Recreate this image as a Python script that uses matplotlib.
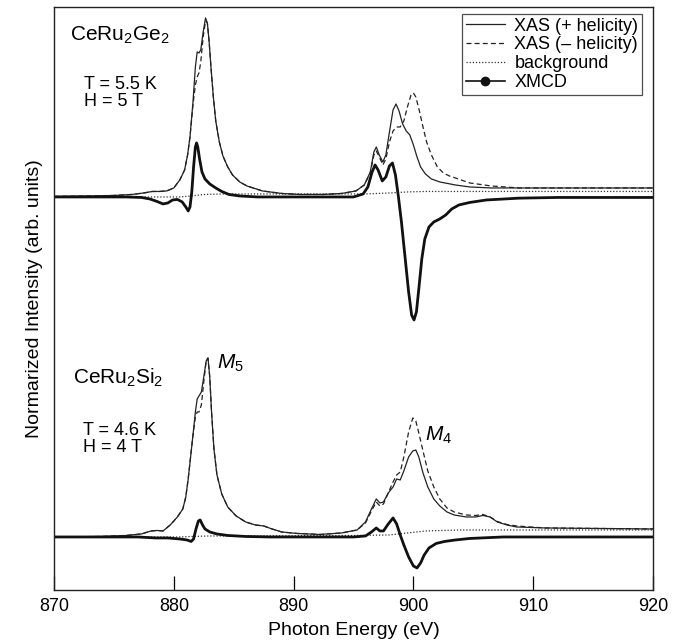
import numpy as np
import matplotlib
matplotlib.use("Agg")
import matplotlib.pyplot as plt
from matplotlib.lines import Line2D

plt.rcParams['font.family'] = ['Liberation Sans', 'DejaVu Sans']
plt.rcParams['mathtext.fontset'] = 'custom'
plt.rcParams['mathtext.rm'] = 'Liberation Sans'
plt.rcParams['mathtext.it'] = 'Liberation Sans:italic'

# ---- CeRu2Ge2 (upper set), values relative to its own baseline ----
ge_e_plus = [870, 873, 875, 876.5, 877.5, 878.2, 878.8, 879.4, 880.0, 880.5, 880.9, 881.15,
             881.35, 881.6, 881.8, 881.95, 882.1, 882.25, 882.45, 882.65, 882.8, 882.95,
             883.1, 883.3, 883.5, 883.8, 884.1, 884.5, 884.9, 885.5, 886.1, 887.4, 889,
             890.5, 892.5, 894, 895.2, 895.9, 896.4, 896.7, 896.9, 897.15, 897.45, 897.7,
             898.0, 898.3, 898.55, 898.8, 899.1, 899.4, 899.7, 900.0, 900.3, 900.6, 901.0,
             901.5, 902.2, 903.5, 904.7, 906.5, 908, 920]
ge_plus = [0.005, 0.01, 0.015, 0.025, 0.04, 0.055, 0.055, 0.06, 0.09, 0.17, 0.27, 0.42,
           0.60, 0.95, 1.30, 1.45, 1.44, 1.47, 1.65, 1.79, 1.74, 1.55,
           1.30, 1.00, 0.76, 0.55, 0.41, 0.30, 0.22, 0.15, 0.11, 0.06, 0.035,
           0.025, 0.025, 0.035, 0.06, 0.12, 0.25, 0.45, 0.50, 0.42, 0.35, 0.42,
           0.65, 0.87, 0.93, 0.86, 0.73, 0.66, 0.62, 0.52, 0.40, 0.30, 0.23,
           0.18, 0.15, 0.12, 0.10, 0.09, 0.09, 0.09]

ge_e_minus = [870, 873, 875, 876.5, 877.5, 878.2, 878.8, 879.4, 880.0, 880.5, 880.9, 881.15,
              881.35, 881.6, 881.8, 881.95, 882.1, 882.25, 882.45, 882.65, 882.8, 882.95,
              883.1, 883.3, 883.5, 883.8, 884.1, 884.5, 884.9, 885.5, 886.1, 887.4, 889,
              890.5, 892.5, 894, 895.2, 895.9, 896.4, 896.7, 896.9, 897.15, 897.45, 897.7,
              898.0, 898.3, 898.6, 898.9, 899.2, 899.5, 899.8, 900.0, 900.2, 900.5, 900.8,
              901.1, 901.5, 902.0, 902.5, 903.0, 903.5, 904.7, 906.5, 908.8, 920]
ge_minus = [0.005, 0.01, 0.015, 0.025, 0.04, 0.055, 0.055, 0.06, 0.09, 0.17, 0.27, 0.42,
            0.60, 0.92, 1.12, 1.20, 1.24, 1.35, 1.60, 1.76, 1.74, 1.55,
            1.30, 1.00, 0.76, 0.55, 0.41, 0.30, 0.22, 0.15, 0.11, 0.06, 0.035,
            0.025, 0.025, 0.035, 0.06, 0.12, 0.24, 0.42, 0.46, 0.40, 0.32, 0.38,
            0.55, 0.66, 0.70, 0.70, 0.76, 0.90, 1.02, 1.04, 1.00, 0.86, 0.70,
            0.55, 0.42, 0.30, 0.24, 0.21, 0.19, 0.14, 0.11, 0.09, 0.09]

ge_e_bg = [870, 880.5, 881.5, 882.5, 884, 896, 898, 899.5, 901, 920]
ge_bg = [0.0, 0.0, 0.01, 0.025, 0.03, 0.03, 0.04, 0.05, 0.055, 0.055]

ge_e_mcd = [870, 876, 877.3, 878.0, 878.6, 879.1, 879.5, 879.9, 880.3, 880.7, 881.0, 881.2,
            881.35, 881.5, 881.65, 881.8, 881.9, 882.0, 882.15, 882.35, 882.6, 883.0,
            883.5, 884.0, 884.6, 885.5, 887, 895, 895.8, 896.2, 896.55, 896.8, 897.05,
            897.4, 897.7, 898.0, 898.25, 898.5, 898.75, 899.0, 899.3, 899.6, 899.85,
            900.05, 900.25, 900.45, 900.7, 900.95, 901.3, 901.7, 902.2, 902.7, 903.2,
            903.8, 904.7, 906.1, 908.8, 912, 920]
ge_mcd = [0, 0, -0.005, -0.02, -0.045, -0.07, -0.06, -0.03, -0.025, -0.05, -0.10, -0.14,
          -0.10, 0.05, 0.30, 0.50, 0.54, 0.50, 0.38, 0.25, 0.18, 0.13,
          0.09, 0.055, 0.025, 0.01, 0.0, 0.0, 0.03, 0.10, 0.25, 0.32, 0.27,
          0.16, 0.20, 0.31, 0.34, 0.22, 0.0, -0.25, -0.60, -0.95, -1.18,
          -1.23, -1.15, -0.92, -0.62, -0.42, -0.30, -0.25, -0.22, -0.18, -0.12,
          -0.08, -0.055, -0.03, -0.012, -0.005, -0.005]

# ---- CeRu2Si2 (lower set) ----
si_e_plus = [870, 874, 876, 877.3, 878.1, 878.6, 879.1, 879.7, 880.3, 880.75, 881.0, 881.2,
             881.4, 881.6, 881.8, 881.95, 882.1, 882.3, 882.5, 882.7, 882.85, 883.0,
             883.15, 883.35, 883.6, 884.0, 884.5, 885.2, 886.0, 886.8, 887.5, 888.2, 889,
             890.3, 892.2, 894, 895.3, 896.0, 896.5, 896.9, 897.2, 897.5, 897.9, 898.3,
             898.6, 898.9, 899.2, 899.6, 899.95, 900.2, 900.45, 900.8, 901.2, 901.7,
             902.2, 902.8, 903.4, 904.4, 905.2, 905.8, 906.4, 907.0, 907.8, 908.6, 911, 920]
si_plus = [0, 0.005, 0.015, 0.03, 0.06, 0.065, 0.06, 0.12, 0.20, 0.28, 0.40, 0.58,
           0.80, 1.02, 1.25, 1.38, 1.41, 1.45, 1.60, 1.76, 1.79, 1.60,
           1.25, 0.88, 0.62, 0.43, 0.30, 0.21, 0.15, 0.12, 0.11, 0.08, 0.05,
           0.035, 0.025, 0.04, 0.07, 0.15, 0.28, 0.38, 0.34, 0.35, 0.44, 0.50,
           0.58, 0.57, 0.66, 0.80, 0.86, 0.87, 0.80, 0.64, 0.50, 0.38,
           0.31, 0.25, 0.22, 0.20, 0.20, 0.215, 0.20, 0.15, 0.12, 0.10, 0.09, 0.08]

si_e_minus = si_e_plus
si_minus = [0, 0.005, 0.015, 0.03, 0.06, 0.065, 0.06, 0.12, 0.20, 0.28, 0.40, 0.58,
            0.80, 1.02, 1.20, 1.25, 1.25, 1.32, 1.55, 1.76, 1.79, 1.60,
            1.25, 0.88, 0.62, 0.43, 0.30, 0.21, 0.15, 0.12, 0.11, 0.08, 0.05,
            0.035, 0.025, 0.04, 0.07, 0.14, 0.26, 0.35, 0.31, 0.33, 0.44, 0.55,
            0.62, 0.65, 0.80, 1.05, 1.19, 1.16, 1.04, 0.86, 0.66, 0.50,
            0.38, 0.29, 0.25, 0.22, 0.215, 0.225, 0.20, 0.155, 0.125, 0.11, 0.09, 0.08]

si_e_bg = [870, 880.5, 881.5, 883, 895, 898, 899.5, 901, 904, 920]
si_bg = [0.0, 0.0, 0.005, 0.01, 0.015, 0.02, 0.04, 0.06, 0.07, 0.07]

si_e_mcd = [870, 877, 878.5, 879.5, 880.5, 881.1, 881.45, 881.65, 881.85, 882.05, 882.2,
            882.4, 882.6, 883.0, 883.6, 884.5, 886, 888, 895, 896.0, 896.5, 896.9, 897.2,
            897.5, 897.9, 898.3, 898.6, 898.9, 899.2, 899.6, 900.0, 900.3, 900.6, 900.9,
            901.3, 901.9, 902.6, 903.5, 904.7, 907.5, 920]
si_mcd = [0, 0, -0.01, -0.01, -0.02, -0.03, -0.045, -0.02, 0.08, 0.16, 0.17,
          0.12, 0.08, 0.05, 0.03, 0.015, 0.005, 0.0, 0.0, 0.01, 0.05, 0.09, 0.06,
          0.06, 0.13, 0.19, 0.13, 0.02, -0.08, -0.20, -0.29, -0.31, -0.26, -0.18,
          -0.11, -0.065, -0.045, -0.03, -0.015, 0.0, 0.0]

offset_ge = 3.40
offset_si = 0.0

fig = plt.figure(figsize=(6.82, 6.44), dpi=100)
ax = fig.add_axes([0.0792, 0.0839, 0.8783, 0.9053])

panels = [
    (offset_ge, ge_e_plus, ge_plus, ge_e_minus, ge_minus, ge_e_bg, ge_bg, ge_e_mcd, ge_mcd),
    (offset_si, si_e_plus, si_plus, si_e_minus, si_minus, si_e_bg, si_bg, si_e_mcd, si_mcd),
]
for off, ep, yp, em, ym, eb, yb, ed, yd in panels:
    ax.plot(eb, np.array(yb) + off, color='#333333', lw=0.9, ls=(0, (1, 1.5)))
    ax.plot(em, np.array(ym) + off, color='#222222', lw=0.9, ls=(0, (4, 2.5)))
    ax.plot(ep, np.array(yp) + off, color='#222222', lw=0.9)
    ax.plot(ed, np.array(yd) + off, color='#111111', lw=2.0)

ax.set_xlim(870, 920)
ax.set_ylim(-0.53, 5.30)
ax.set_xticks([870, 880, 890, 900, 910, 920])
ax.set_yticks([])
ax.tick_params(axis='x', direction='in', length=10, width=0.9, labelsize=13, pad=6)
for s in ax.spines.values():
    s.set_linewidth(1.0)
    s.set_color('#222222')

ax.set_xlabel('Photon Energy (eV)', fontsize=14, labelpad=5)
ax.set_ylabel('Normarized Intensity (arb. units)', fontsize=14, labelpad=8)

ax.text(871.3, 5.02, 'CeRu$_2$Ge$_2$', fontsize=15, va='center', ha='left')
ax.text(872.5, 4.44, 'T = 5.5 K\nH = 5 T', fontsize=13, va='center', ha='left',
        linespacing=1.0)
ax.text(871.6, 1.59, 'CeRu$_2$Si$_2$', fontsize=15, va='center', ha='left')
ax.text(872.4, 0.98, 'T = 4.6 K\nH = 4 T', fontsize=13, va='center', ha='left',
        linespacing=1.0)
ax.text(883.6, 1.74, '$M_5$', fontsize=15, va='center', ha='left')
ax.text(901.0, 1.02, '$M_4$', fontsize=15, va='center', ha='left')

handles = [
    Line2D([], [], color='#222222', lw=0.9),
    Line2D([], [], color='#222222', lw=0.9, ls=(0, (4, 2.5))),
    Line2D([], [], color='#333333', lw=0.9, ls=(0, (1, 1.5))),
    Line2D([], [], color='#111111', lw=1.2, marker='o', markersize=6),
]
labels = ['XAS (+ helicity)', 'XAS (\u2013 helicity)', 'background', 'XMCD']
leg = ax.legend(handles, labels, loc='upper right', bbox_to_anchor=(0.9816, 0.988),
                borderaxespad=0, fontsize=13, frameon=True, fancybox=False,
                handlelength=2.2, handletextpad=0.5, labelspacing=0.1,
                borderpad=0.2, markerscale=1.0)
leg.get_frame().set_edgecolor('#222222')
leg.get_frame().set_linewidth(0.9)

fig.savefig('out.png', dpi=100)
